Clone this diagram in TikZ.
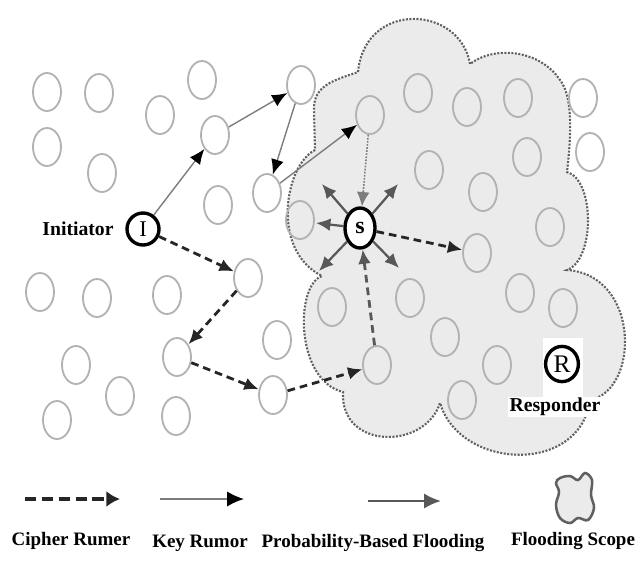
\documentclass[tikz,border=0pt]{standalone}
\usepackage{fontspec}
\setmainfont{Liberation Serif}
\usetikzlibrary{arrows.meta,positioning,shapes.geometric}
\definecolor{cloudgray}{HTML}{EBEBEB}
\definecolor{peergray}{HTML}{B2B2B2}
\definecolor{linegray}{HTML}{7C7C7C}
\definecolor{floodgray}{HTML}{585858}
\definecolor{edgegray}{HTML}{606060}

\begin{document}
\begin{tikzpicture}[x=0.025cm, y=-0.025cm,
    every node/.style={font=\bfseries\fontsize{14}{16}\selectfont},
    peer/.style={draw=peergray, line width=1.3pt, ellipse, minimum width=0.7cm, minimum height=0.95cm, inner sep=0pt},
    agent/.style={draw=black, line width=2.4pt, ellipse, fill=white, inner sep=0pt},
    cipher/.style={-{Latex[length=3.6mm,width=3.2mm]}, line width=2pt, dash pattern=on 5.5pt off 3.5pt, draw=black!85},
    keyrumor/.style={-{Latex[length=3.8mm,width=3.2mm,color=black]}, line width=1pt, draw=linegray},
    flood/.style={-{Latex[length=3.6mm,width=3.2mm]}, line width=1.6pt, draw=floodgray},
    legend/.style={font=\bfseries\fontsize{13.5}{15}\selectfont}]
    \useasboundingbox (0,0) rectangle (637,562);
    % flooding scope
    \filldraw[fill=cloudgray, draw=edgegray, line width=1.5pt, dash pattern=on 1.4pt off 1.1pt]
      (315,150) .. controls (285,165) and (270,250) .. (322,276)
      .. controls (295,285) and (295,380) .. (343,392)
      .. controls (340,450) and (425,450) .. (440,403)
      .. controls (460,470) and (580,475) .. (590,400)
      .. controls (640,390) and (640,275) .. (567,270)
      .. controls (595,260) and (595,180) .. (567,172)
      .. controls (572,130) and (572,95) .. (560,80)
      .. controls (540,50) and (495,45) .. (470,64)
      .. controls (460,5) and (365,0) .. (358,72)
      .. controls (335,80) and (313,85) .. (314,110) -- cycle;
    \fill[white] (543,338) rectangle (583,398);
    % nodes
    \node[peer] (p1) at (47,92) {};
    \node[peer] (p2) at (99,93) {};
    \node[peer] (p3) at (160,115) {};
    \node[peer] (p4) at (202,80) {};
    \node[peer] (p5) at (47,147) {};
    \node[peer] (p6) at (102,173) {};
    \node[peer] (k1) at (215,135) {};
    \node[peer] (k2) at (301,85) {};
    \node[peer] (p7) at (218,205) {};
    \node[peer] (k3) at (267,193) {};
    \node[peer] (p8) at (300,220) {};
    \node[peer] (c1) at (248,278) {};
    \node[peer] (p9) at (40,292) {};
    \node[peer] (p10) at (97,298) {};
    \node[peer] (p11) at (167,295) {};
    \node[peer] (p12) at (76,365) {};
    \node[peer] (p13) at (120,396) {};
    \node[peer] (c2) at (177,357) {};
    \node[peer] (p14) at (57,420) {};
    \node[peer] (p15) at (176,416) {};
    \node[peer] (p16) at (277,340) {};
    \node[peer] (c3) at (273,395) {};
    \node[peer] (k4) at (370,115) {};
    \node[peer] (p17) at (418,93) {};
    \node[peer] (p18) at (467,107) {};
    \node[peer] (p19) at (518,98) {};
    \node[peer] (p20) at (583,98) {};
    \node[peer] (p21) at (590,152) {};
    \node[peer] (p22) at (429,170) {};
    \node[peer] (p23) at (483,192) {};
    \node[peer] (p24) at (527,157) {};
    \node[peer] (p25) at (550,227) {};
    \node[peer] (c5) at (477,253) {};
    \node[peer] (p26) at (332,307) {};
    \node[peer] (p27) at (410,298) {};
    \node[peer] (p28) at (520,293) {};
    \node[peer] (p29) at (563,308) {};
    \node[peer] (p30) at (445,337) {};
    \node[peer] (c4) at (377,365) {};
    \node[peer] (p31) at (497,365) {};
    \node[peer] (p32) at (462,400) {};
    \node[agent,minimum width=0.8cm,minimum height=0.8cm,font=\fontsize{16}{16}\selectfont] (init) at (143,229) {I};
    \node[agent,minimum width=0.75cm,minimum height=1cm,font=\bfseries\fontsize{17}{17}\selectfont] (src) at (360,228) {s};
    \node[agent,minimum width=0.82cm,minimum height=0.88cm,font=\fontsize{18}{18}\selectfont] (resp) at (562,364) {R};
    \node[left=0.17cm of init] (initlabel) {Initiator};
    \node[fill=white,inner sep=1pt] (resplabel) at (555,407) {Responder};
    % key rumor
    \draw[keyrumor] (init) -- (k1);
    \draw[keyrumor] (k1) -- (k2);
    \draw[keyrumor] (k2) -- (k3);
    \draw[keyrumor] (k3) -- (k4);
    \draw[flood, line width=1.1pt, draw=linegray, dash pattern=on 1.2pt off 1pt] (k4) -- (src);
    % cipher rumor
    \draw[cipher] (init) -- (c1);
    \draw[cipher] (c1) -- (c2);
    \draw[cipher] (c2) -- (c3);
    \draw[cipher] (c3) -- (c4);
    \draw[cipher, draw=floodgray] (c4) -- (src);
    \draw[cipher] (src) -- (c5);
    % probability-based flooding
    \coordinate (f1) at (322,184);
    \coordinate (f2) at (398,184);
    \coordinate (f3) at (316,223);
    \coordinate (f4) at (319,271);
    \coordinate (f5) at (399,268);
    \foreach \f in {f1,f2,f3,f4,f5}
      \draw[flood] (src) -- (\f);
    % legend
    \coordinate (lc1) at (25,499);
    \coordinate (lc2) at (120,499);
    \coordinate (lk1) at (160,499);
    \coordinate (lk2) at (244,499);
    \coordinate (lp1) at (368,501);
    \coordinate (lp2) at (441,501);
    \draw[cipher, line width=2.4pt, dash pattern=on 8pt off 4pt, -{Latex[length=3.4mm,width=4mm]}] (lc1) -- (lc2);
    \draw[keyrumor, line width=1.3pt, -{Latex[length=4.2mm,width=3.8mm,color=black]}] (lk1) -- (lk2);
    \draw[flood, line width=1.8pt, -{Latex[length=4.2mm,width=3.8mm]}] (lp1) -- (lp2);
    \filldraw[fill=cloudgray, draw=edgegray, line width=1.8pt]
      plot[smooth cycle, tension=0.6] coordinates {(560,478) (570,476) (578,480) (585,473) (592,480) (591,495) (594,508) (588,520) (578,518) (570,523) (560,518) (556,505) (559,492) (556,483)};
    \node[legend] (lcipher) at (71,541) {Cipher Rumer};
    \node[legend] (lkey) at (200,543) {Key Rumor};
    \node[legend] (lprob) at (373,543) {Probability-Based Flooding};
    \node[legend] (lscope) at (573,541) {Flooding Scope};
\end{tikzpicture}
\end{document}
